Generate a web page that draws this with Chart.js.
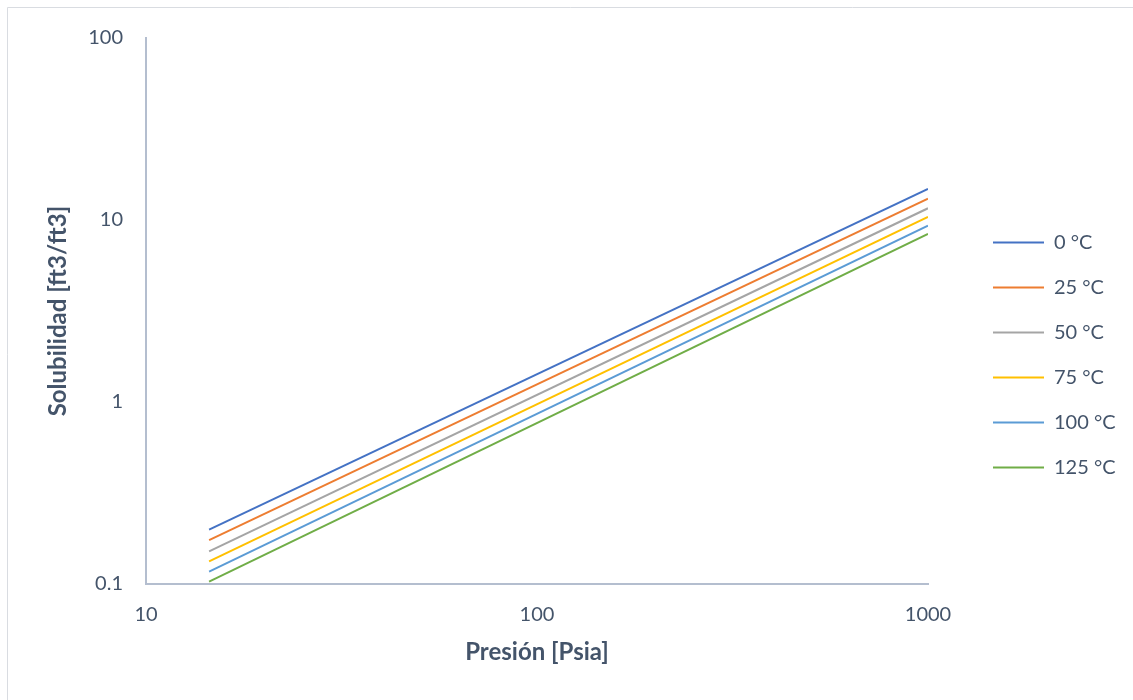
<!DOCTYPE html>
<html>
<head>
<meta charset="utf-8">
<script src="https://cdn.jsdelivr.net/npm/chart.js@4/dist/chart.umd.min.js"></script>
<style>
  html, body { margin: 0; padding: 0; background: #ffffff; }
  #wrap { width: 1133px; height: 700px; position: relative; }
</style>
</head>
<body>
<div id="wrap"><canvas id="c" width="1133" height="700"></canvas></div>
<script>
// ---- Data ----
const pressure = [14.5, 1000];               // Psia
const sol0   = [0.199, 14.8];
const sol25  = [0.174, 13.1];
const sol50  = [0.151, 11.6];
const sol75  = [0.133, 10.4];
const sol100 = [0.117, 9.3];
const sol125 = [0.103, 8.4];
const seriesNames = ['0 °C', '25 °C', '50 °C', '75 °C', '100 °C', '125 °C'];
const seriesColors = ['#4472C4', '#ED7D31', '#A5A5A5', '#FFC000', '#5B9BD5', '#70AD47'];
const xTickValues = [10, 100, 1000];
const xTickLabels = ['10', '100', '1000'];
const yTickValues = [0.1, 1, 10, 100];
const yTickLabels = ['0.1', '1', '10', '100'];
const xTitle = 'Presión [Psia]';
const yTitle = 'Solubilidad [ft3/ft3]';

const allSeries = [sol0, sol25, sol50, sol75, sol100, sol125];
const datasets = allSeries.map((vals, i) => ({
  label: seriesNames[i],
  data: pressure.map((p, j) => ({ x: p, y: vals[j] })),
  borderColor: seriesColors[i],
  backgroundColor: seriesColors[i],
  borderWidth: 2,
  pointRadius: 0,
  fill: false,
  tension: 0
}));

const textColor = '#44546A';
const axisColor = '#B4BECF';
const FONT = 'Lato, "Open Sans", sans-serif';
const LEGEND_PAD = 25;

const layoutFix = {
  id: 'layoutFix',
  afterLayout(chart) {
    const lg = chart.legend;
    if (lg) {
      const dx = 993 - (lg.left + LEGEND_PAD);
      const dy = 5;
      lg.left += dx; lg.right += dx;
      lg.top += dy; lg.bottom += dy;
    }
  },
  beforeDraw(chart) {
    const ctx = chart.ctx;
    ctx.save();
    ctx.fillStyle = '#ffffff';
    ctx.fillRect(0, 0, chart.width, chart.height);
    ctx.strokeStyle = '#D9DCE1';
    ctx.lineWidth = 1;
    ctx.beginPath();
    ctx.moveTo(7.5, chart.height + 5);
    ctx.lineTo(7.5, 7.5);
    ctx.lineTo(chart.width + 5, 7.5);
    ctx.stroke();
    ctx.restore();
  }
};

new Chart(document.getElementById('c'), {
  type: 'line',
  data: { datasets },
  plugins: [layoutFix],
  options: {
    responsive: false,
    animation: false,
    devicePixelRatio: 1,
    layout: { padding: { left: 0, top: 0, right: 0, bottom: 0 } },
    plugins: {
      tooltip: { enabled: false },
      title: { display: false },
      legend: {
        display: true,
        position: 'right',
        align: 'center',
        labels: {
          boxWidth: 51,
          boxHeight: 2,
          padding: LEGEND_PAD,
          color: textColor,
          font: { family: FONT, size: 20 },
          generateLabels(chart) {
            return chart.data.datasets.map((ds, i) => ({
              text: ds.label,
              fillStyle: ds.borderColor,
              strokeStyle: ds.borderColor,
              lineWidth: 0,
              hidden: false,
              datasetIndex: i,
              fontColor: textColor
            }));
          }
        }
      }
    },
    scales: {
      x: {
        type: 'logarithmic',
        position: 'bottom',
        min: 10,
        max: 1000,
        grid: { display: false, drawTicks: false },
        border: { display: true, color: axisColor, width: 2 },
        afterBuildTicks(scale) { scale.ticks = xTickValues.map(v => ({ value: v })); },
        afterFit(scale) { scale.height = 700 - 584; scale.paddingRight = 1133 - 928; scale.paddingLeft = 0; },
        ticks: {
          color: textColor,
          font: { family: FONT, size: 20 },
          padding: 19,
          maxRotation: 0,
          autoSkip: false,
          callback(value) { const k = xTickValues.indexOf(value); return k >= 0 ? xTickLabels[k] : ''; }
        },
        title: {
          display: true,
          text: xTitle,
          color: textColor,
          font: { family: FONT, size: 24, weight: 'bold' },
          padding: { top: 0, bottom: 33 }
        }
      },
      y: {
        type: 'logarithmic',
        position: 'left',
        min: 0.1,
        max: 100,
        grid: { display: false, drawTicks: false },
        border: { display: true, color: axisColor, width: 2 },
        afterBuildTicks(scale) { scale.ticks = yTickValues.map(v => ({ value: v })); },
        afterFit(scale) { scale.width = 146; scale.paddingTop = 38; },
        ticks: {
          color: textColor,
          font: { family: FONT, size: 20 },
          padding: 23,
          autoSkip: false,
          callback(value) { const k = yTickValues.indexOf(value); return k >= 0 ? yTickLabels[k] : ''; }
        },
        title: {
          display: true,
          text: yTitle,
          color: textColor,
          font: { family: FONT, size: 24, weight: 'bold' },
          padding: { top: 44, bottom: 0 }
        }
      }
    }
  }
});
</script>
</body>
</html>
